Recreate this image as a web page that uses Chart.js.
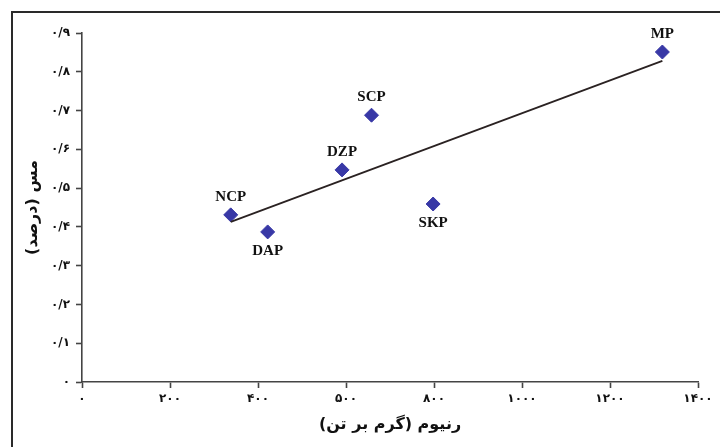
<!DOCTYPE html>
<html>
<head>
<meta charset="utf-8">
<script src="https://cdn.jsdelivr.net/npm/chart.js@4"></script>
<style>
  body { margin: 0; background: #fff; }
  #wrap { position: relative; width: 720px; height: 447px; overflow: hidden; }
  #frame { position: absolute; left: 11px; top: 11px; width: 760px; height: 500px;
           border-left: 2px solid #2a2a2a; border-top: 2px solid #2a2a2a; pointer-events: none; }
</style>
</head>
<body>
<div id="wrap">
  <canvas id="myChart" width="720" height="447"></canvas>
  <div id="frame"></div>
</div>
<script>
// data
const nomes = ['NCP', 'DAP', 'DZP', 'SCP', 'SKP', 'MP']
const renio = [338, 422, 591, 658, 798, 1319]
const cobre = [0.431, 0.387, 0.547, 0.688, 0.459, 0.851]

// trend line ends
const linha_x = [338, 1319]
const linha_y = [0.413, 0.828]

// axis labels
const ticks_x = ['۰', '۲۰۰', '۴۰۰', '۵۰۰', '۸۰۰', '۱۰۰۰', '۱۲۰۰', '۱۴۰۰']
const ticks_y = ['۰', '۰/۱', '۰/۲', '۰/۳', '۰/۴', '۰/۵', '۰/۶', '۰/۷', '۰/۸', '۰/۹']
const titulo_x = 'رنیوم (گرم بر تن)\u200F'
const titulo_y = 'مس (درصد)\u200F'

/*========================================================*/

const ctx = document.getElementById('myChart')
const cor_ponto = '#3838a6'
const cor_eixo = '#444'
const acima = { NCP: true, DAP: false, DZP: true, SCP: true, SKP: false, MP: true }

const pontos = renio.map((x, i) => ({ x: x, y: cobre[i] }))
const linha = linha_x.map((x, i) => ({ x: x, y: linha_y[i] }))

const rotulos = {
    id: 'rotulos',
    afterDatasetsDraw(chart) {
        const c = chart.ctx
        const meta = chart.getDatasetMeta(1)
        c.save()
        c.font = 'bold 15px "Liberation Serif"'
        c.fillStyle = '#111'
        c.textAlign = 'center'
        c.textBaseline = 'middle'
        meta.data.forEach((p, i) => {
            let dy = acima[nomes[i]] ? -18 : 19
            c.fillText(nomes[i], p.x, p.y + dy)
        })
        c.restore()
    }
}

var grafico = new Chart(ctx, {
    type: 'scatter',
    data: {
        datasets: [{
            type: 'line',
            data: linha,
            borderColor: '#2a2222',
            borderWidth: 1.8,
            pointRadius: 0,
            fill: false,
            clip: false
        }, {
            data: pontos,
            pointStyle: 'rectRot',
            pointRadius: 7,
            pointBackgroundColor: cor_ponto,
            pointBorderColor: cor_ponto,
            pointBorderWidth: 1,
            clip: false
        }]
    },
    options: {
        responsive: false,
        animation: false,
        layout: { padding: { top: 33, right: 22, left: 0, bottom: 0 } },
        plugins: { legend: { display: false }, tooltip: { enabled: false } },
        scales: {
            x: {
                type: 'linear',
                min: 0,
                max: 1400,
                afterFit(s) { s.height = 65 },
                border: { color: cor_eixo, width: 1.6 },
                grid: { drawOnChartArea: false, tickLength: 6, tickColor: cor_eixo, tickWidth: 1.6 },
                ticks: {
                    stepSize: 200,
                    padding: 4,
                    color: '#111',
                    font: { family: 'DejaVu Sans', size: 12, weight: 'bold' },
                    callback: (v) => ticks_x[Math.round(v / 200)]
                },
                title: {
                    display: true,
                    text: titulo_x,
                    color: '#111',
                    font: { family: 'DejaVu Sans', size: 16, weight: 'bold' },
                    padding: { top: 0, bottom: 13 }
                }
            },
            y: {
                type: 'linear',
                min: 0,
                max: 0.9,
                afterFit(s) { s.width = 82 },
                border: { color: cor_eixo, width: 1.6 },
                grid: { drawOnChartArea: false, tickLength: 6, tickColor: cor_eixo, tickWidth: 1.6 },
                ticks: {
                    stepSize: 0.1,
                    padding: 6,
                    color: '#111',
                    font: { family: 'DejaVu Sans', size: 12, weight: 'bold' },
                    callback: (v) => ticks_y[Math.round(v * 10)]
                },
                title: {
                    display: true,
                    text: titulo_y,
                    color: '#111',
                    font: { family: 'DejaVu Sans', size: 16, weight: 'bold' },
                    padding: { top: 23, bottom: 0 }
                }
            }
        }
    },
    plugins: [rotulos]
})
</script>
</body>
</html>
